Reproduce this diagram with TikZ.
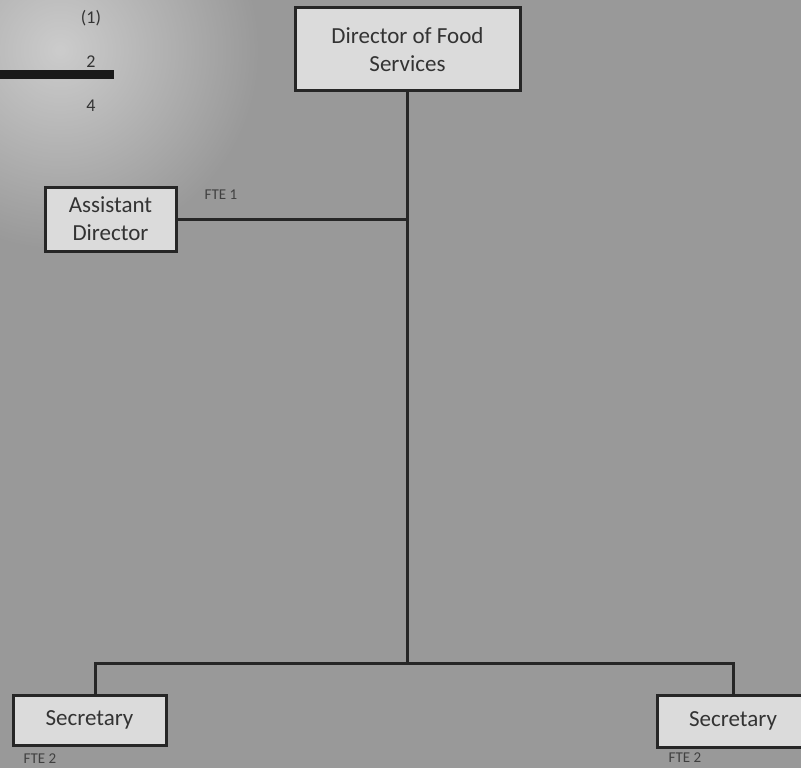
\documentclass[tikz,border=0pt]{standalone}
\usepackage{fontspec}
\usetikzlibrary{fadings}
\setmainfont{Carlito}
\tikzfading[name=softglow, inner color=transparent!0, outer color=transparent!100]
\begin{document}
\begin{tikzpicture}[x=1pt,y=-1pt,
  role/.style={draw=black!85, line width=3pt, fill=black!14, align=center,
    font=\fontsize{23}{28}\selectfont, text=black!80, inner sep=0pt},
  link/.style={draw=black!85, line width=3pt},
  fte/.style={font=\fontsize{15}{16}\selectfont, text=black!75, inner sep=0pt},
  margnote/.style={font=\fontsize{18}{20}\selectfont, text=black!80, inner sep=0pt}]
  % paper
  \useasboundingbox (0,0) rectangle (801,768);
  \fill[black!40] (0,0) rectangle (801,768);
  \begin{scope}
    \clip (0,0) rectangle (801,768);
    \fill[white, opacity=0.5, path fading=softglow] (60,50) circle (200);
  \end{scope}

  % margin notes
  \node[margnote] (m1) at (91,18) {(1)};
  \fill[black!90] (0,70) rectangle (114,79);
  \node[margnote] (m2) at (91,62) {2};
  \node[margnote] (m4) at (91,106) {4};

  % positions
  \node[role, minimum width=225, minimum height=83] (dir) at (407.5,49.5) {Director of Food\\Services};
  \node[role, minimum width=131, minimum height=64] (asst) at (110.5,219) {Assistant\\Director};
  \node[role, minimum width=153, minimum height=50] (secL) at (89.5,720) {Secretary};
  \node[role, minimum width=152, minimum height=52] (secR) at (733,721) {Secretary};

  % reporting lines
  \coordinate (jA) at (dir.south |- asst.east);
  \coordinate (jB) at (dir.south |- 0,663);
  \draw[link] (dir.south) -- (jB);
  \draw[link] (asst.east) -- (jA);
  \draw[link] (secL.north -| 95,0) -- (95,663) -- (733,663) -- (secR.north -| 733,0);

  % staffing notes
  \node[fte] (f1) at (221,195) {FTE 1};
  \node[fte] (f2) at (40,759) {FTE 2};
  \node[fte] (f3) at (685,758) {FTE 2};
\end{tikzpicture}
\end{document}
